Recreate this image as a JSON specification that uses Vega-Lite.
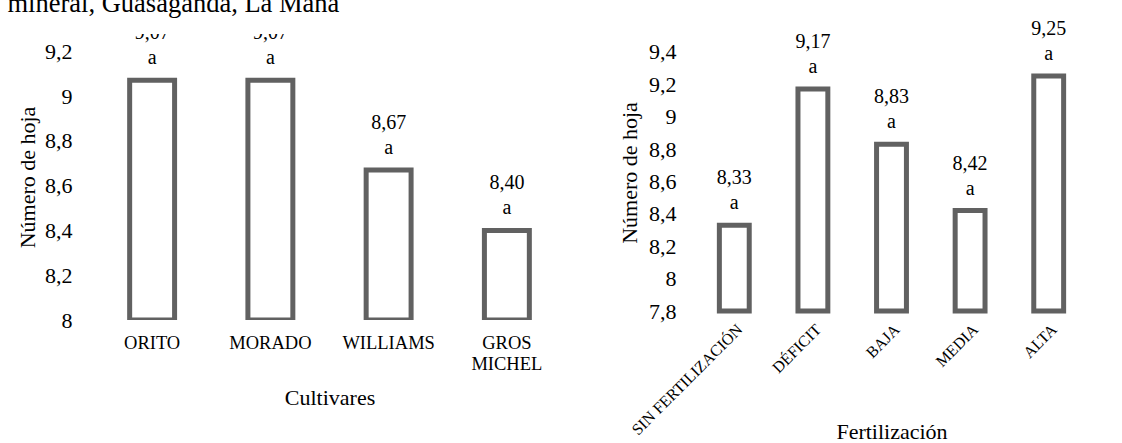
{
  "$schema": "https://vega.github.io/schema/vega-lite/v6.json",
  "padding": {"left": 7, "top": -10, "right": 0, "bottom": 0},
  "background": "white",
  "config": {
    "font": "Liberation Serif",
    "view": {"stroke": null},
    "axis": {"domain": false, "ticks": false, "grid": false, "labelColor": "black", "titleColor": "black", "titleFontWeight": "normal", "labelFont": "Liberation Serif", "titleFont": "Liberation Serif"}
  },
  "title": {"text": "mineral, Guasaganda, La Maná", "anchor": "start", "fontSize": 26.5, "fontWeight": "normal", "font": "Liberation Serif", "color": "black", "dx": -9, "offset": 2},
  "spacing": 52,
  "hconcat": [
    {
      "width": 473,
      "height": 286,
      "data": {"values": [
        {"cultivar": "ORITO", "hojas": 9.07, "lbl": "9,07\na"},
        {"cultivar": "MORADO", "hojas": 9.07, "lbl": "9,07\na"},
        {"cultivar": "WILLIAMS", "hojas": 8.67, "lbl": "8,67\na"},
        {"cultivar": "GROS MICHEL", "hojas": 8.40, "lbl": "8,40\na"}
      ]},
      "encoding": {
        "x": {"field": "cultivar", "type": "nominal", "sort": null, "scale": {"paddingInner": 0.62, "paddingOuter": 0.31},
          "axis": {"title": "Cultivares", "labelAngle": 0, "labelFontSize": 18.5, "labelPadding": 13, "labelLineHeight": 21, "labelExpr": "split(datum.label, ' ')", "titleFontSize": 22, "titleY": 67, "titleBaseline": "top"}},
        "y": {"field": "hojas", "type": "quantitative", "scale": {"domain": [8, 9.277], "nice": false, "zero": false},
          "axis": {"title": "Número de hoja", "values": [8, 8.2, 8.4, 8.6, 8.8, 9, 9.2], "labelExpr": "replace(toString(round(datum.value*10)/10), '.', ',')", "labelFontSize": 22, "labelPadding": 21, "titleFontSize": 22, "titlePadding": 5}}
      },
      "layer": [
        {"mark": {"type": "bar", "fill": "white", "stroke": "#616161", "strokeWidth": 5, "clip": true}, "encoding": {"y2": {"datum": 8}}},
        {"mark": {"type": "text", "clip": true, "baseline": "bottom", "dy": -37, "fontSize": 20, "lineBreak": "\n", "lineHeight": 25, "color": "black"}, "encoding": {"text": {"field": "lbl"}}}
      ]
    },
    {
      "width": 393,
      "height": 277,
      "data": {"values": [
        {"fert": "SIN FERTILIZACIÓN", "hojas": 8.33, "lbl": "8,33\na"},
        {"fert": "DÉFICIT", "hojas": 9.17, "lbl": "9,17\na"},
        {"fert": "BAJA", "hojas": 8.83, "lbl": "8,83\na"},
        {"fert": "MEDIA", "hojas": 8.42, "lbl": "8,42\na"},
        {"fert": "ALTA", "hojas": 9.25, "lbl": "9,25\na"}
      ]},
      "encoding": {
        "x": {"field": "fert", "type": "nominal", "sort": null, "scale": {"paddingInner": 0.62, "paddingOuter": 0.31},
          "axis": {"title": "Fertilización", "labelAngle": -45, "labelFontSize": 16, "labelPadding": 10, "titleFontSize": 22, "titleY": 110, "titleBaseline": "top"}},
        "y": {"field": "hojas", "type": "quantitative", "scale": {"domain": [7.8, 9.51], "nice": false, "zero": false},
          "axis": {"title": "Número de hoja", "values": [7.8, 8, 8.2, 8.4, 8.6, 8.8, 9, 9.2, 9.4], "labelExpr": "replace(toString(round(datum.value*10)/10), '.', ',')", "labelFontSize": 22, "labelPadding": 19, "titleFontSize": 22, "titlePadding": 7}}
      },
      "layer": [
        {"mark": {"type": "bar", "fill": "white", "stroke": "#616161", "strokeWidth": 5}, "encoding": {"y2": {"datum": 7.8}}},
        {"mark": {"type": "text", "baseline": "bottom", "dy": -37, "fontSize": 20, "lineBreak": "\n", "lineHeight": 25, "color": "black"}, "encoding": {"text": {"field": "lbl"}}}
      ]
    }
  ]
}
